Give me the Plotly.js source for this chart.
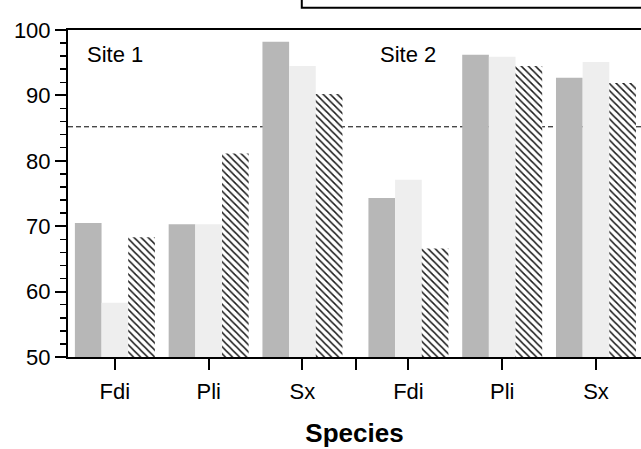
<!DOCTYPE html>
<html>
<head>
<meta charset="utf-8">
<script src="https://cdn.plot.ly/plotly-3.0.1.min.js"></script>
<style>html,body{margin:0;padding:0;background:#fff;}#chart{width:641px;height:449px;}</style>
</head>
<body>
<div id="chart"></div>
<script>
// Category labels and their positions along the x axis (Site 1: 1-3, Site 2: 4.13-6.13)
const species = ["Fdi", "Pli", "Sx", "Fdi", "Pli", "Sx"];
const positions = [1, 2, 3, 4.13, 5.13, 6.13];
const dividerPos = 3.57;
const siteLabels = ["Site 1", "Site 2"];
const siteLabelPos = [1, 4.13];
const siteLabelY = 96.3;
const referenceLevel = 85.2;

// Series values (three treatments)
const seriesA = [70.5, 70.3, 98.2, 74.3, 96.2, 92.7];
const seriesB = [58.3, 70.3, 94.5, 77.1, 95.9, 95.1];
const seriesC = [68.3, 81.1, 90.2, 66.6, 94.5, 91.9];

const FONT = "Liberation Sans, Arial, sans-serif";

const traces = [
  {type: "bar", x: positions, y: seriesA, marker: {color: "#b7b7b7", line: {width: 0}}, showlegend: false},
  {type: "bar", x: positions, y: seriesB, marker: {color: "#eeeeee", line: {width: 0}}, showlegend: false},
  {type: "bar", x: positions, y: seriesC, marker: {color: "#ffffff", line: {width: 0},
     pattern: {shape: "\\", fgcolor: "#1a1a1a", bgcolor: "#ffffff", size: 5, solidity: 0.3}}, showlegend: false}
];

const tickvals = positions.slice(0, 3).concat([dividerPos], positions.slice(3));
const ticktext = species.slice(0, 3).concat([""], species.slice(3));

const layout = {
  width: 641, height: 449,
  margin: {l: 68, r: 0, t: 30, b: 92},
  paper_bgcolor: "#ffffff", plot_bgcolor: "#ffffff",
  font: {family: FONT, size: 22, color: "#000"},
  barmode: "group", bargap: 0.147, bargroupgap: 0,
  xaxis: {
    range: [0.5, 6.61], tickvals: tickvals, ticktext: ticktext,
    showgrid: false, zeroline: false, showline: true, linecolor: "#000", linewidth: 2, mirror: true,
    ticks: "outside", ticklen: 11, tickwidth: 2, tickcolor: "#000", ticklabelstandoff: 3,
    tickfont: {family: FONT, size: 22, color: "#000"},
    title: {text: "<b>Species</b>", font: {family: FONT, size: 26, color: "#000"}, standoff: 20},
    automargin: false
  },
  yaxis: {
    range: [50, 100], tickvals: [50, 60, 70, 80, 90, 100],
    showgrid: false, zeroline: false, showline: true, linecolor: "#000", linewidth: 2,
    ticks: "outside", ticklen: 11, tickwidth: 2, tickcolor: "#000",
    minor: {dtick: 2, ticks: "outside", ticklen: 6, tickwidth: 1.5, tickcolor: "#000", showgrid: false},
    tickfont: {family: FONT, size: 22, color: "#000"},
    automargin: false
  },
  shapes: [
    {type: "line", xref: "paper", yref: "y", x0: 0, x1: 1, y0: referenceLevel, y1: referenceLevel,
     line: {color: "#000", width: 1, dash: "5px,3px"}, layer: "below"},
    {type: "rect", xref: "paper", yref: "paper", x0: 0.408, x1: 1.2, y0: 1.068, y1: 1.3,
     line: {color: "#000", width: 2}, fillcolor: "rgba(0,0,0,0)"}
  ],
  annotations: siteLabels.map((t, i) => ({
    x: siteLabelPos[i], y: siteLabelY, xref: "x", yref: "y", text: t, showarrow: false,
    font: {family: FONT, size: 22, color: "#000"}, xanchor: "center", yanchor: "middle"
  }))
};

Plotly.newPlot("chart", traces, layout, {displayModeBar: false, staticPlot: true});
</script>
</body>
</html>
